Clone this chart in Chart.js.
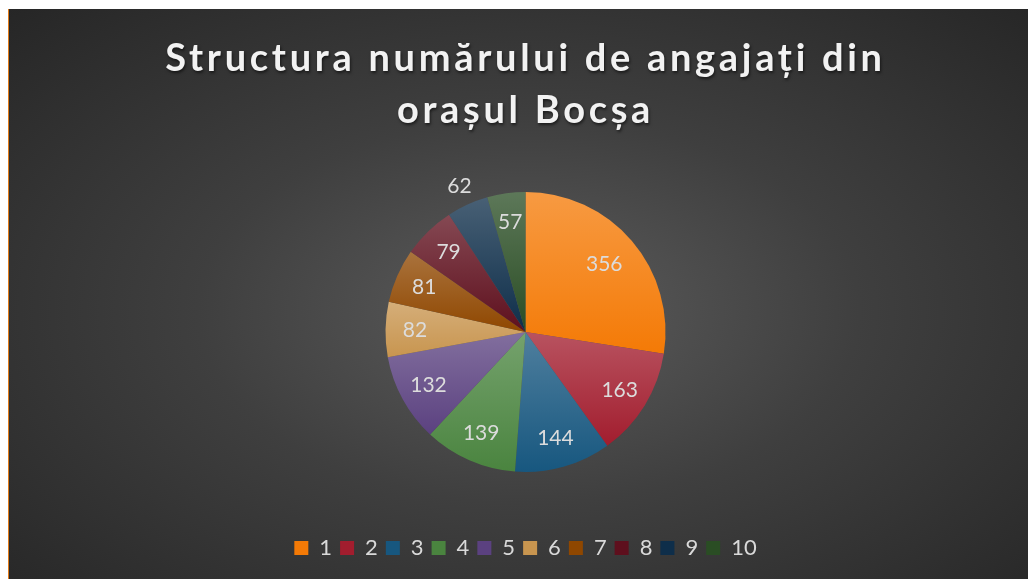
<!DOCTYPE html>
<html lang="ro">
<head>
<meta charset="utf-8">
<title>Structura numărului de angajați din orașul Bocșa</title>
<script src="https://cdn.jsdelivr.net/npm/chart.js@4.4.1/dist/chart.umd.min.js"></script>
<style>
  html, body { margin: 0; padding: 0; background: #ffffff; }
  #frame {
    position: absolute;
    left: 8px; top: 9px;
    width: 1020px; height: 570px;
    border-left: 1px solid #e07a18;
    box-sizing: border-box;
    background: radial-gradient(ellipse farthest-corner at 51% 53%, #5c5c5c 0%, #3f3f3f 45%, #262626 100%);
    overflow: hidden;
  }
  #title {
    position: absolute;
    left: 14px; right: 0; top: 21px;
    margin: 0;
    text-align: center;
    font-family: Lato, "Open Sans", sans-serif;
    font-weight: 700;
    font-size: 38px;
    line-height: 52px;
    letter-spacing: 3.7px;
    color: #f2f2f2;
    text-shadow: 1px 2px 3px rgba(0, 0, 0, 0.55);
  }
  #chart { position: absolute; left: 0; top: 0; }
</style>
</head>
<body>
<div id="frame">
  <canvas id="chart" width="1019" height="570"></canvas>
  <h1 id="title">Structura numărului de angajați din<br>orașul Bocșa</h1>
</div>
<script>
const categories = ['1', '2', '3', '4', '5', '6', '7', '8', '9', '10'];
const employees = [356, 163, 144, 139, 132, 82, 81, 79, 62, 57];
const sliceColors = ['#F47A06', '#A21D2E', '#17577F', '#4A843F', '#5B4180',
                     '#C8954F', '#8F4700', '#5E0F1D', '#0E2E4A', '#2A4D24'];

// lighten a hex colour towards white
const tint = (hex, amt) => {
    const n = parseInt(hex.slice(1), 16);
    const r = (n >> 16) & 255, g = (n >> 8) & 255, b = n & 255;
    const mix = c => Math.round(c + (255 - c) * amt);
    return `rgb(${mix(r)}, ${mix(g)}, ${mix(b)})`;
};

const PIE_RADIUS = 140;

// each slice gets its own top-to-bottom gradient over its bounding box
const sliceFill = (ctx) => {
    const base = sliceColors[ctx.dataIndex];
    const chart = ctx.chart;
    const area = chart.chartArea;
    if (!area) return base;
    const cx = (area.left + area.right) / 2;
    const cy = (area.top + area.bottom) / 2;
    const total = employees.reduce((a, b) => a + b, 0);
    let before = 0;
    for (let i = 0; i < ctx.dataIndex; i++) before += employees[i];
    const a0 = -Math.PI / 2 + before / total * Math.PI * 2;
    const a1 = a0 + employees[ctx.dataIndex] / total * Math.PI * 2;
    const ys = [cy, cy + Math.sin(a0) * PIE_RADIUS, cy + Math.sin(a1) * PIE_RADIUS];
    [-Math.PI / 2, Math.PI / 2, Math.PI * 1.5].forEach(a => {
        if (a > a0 && a < a1) ys.push(cy + Math.sin(a) * PIE_RADIUS);
    });
    const top = Math.min(...ys), bottom = Math.max(...ys);
    const grad = chart.ctx.createLinearGradient(0, top, 0, bottom);
    grad.addColorStop(0, tint(base, 0.24));
    grad.addColorStop(1, base);
    return grad;
};

// value labels inside the slices (the small 62 slice gets its label outside)
const sliceLabels = {
    id: 'sliceLabels',
    afterDatasetsDraw(chart) {
        const meta = chart.getDatasetMeta(0);
        const c = chart.ctx;
        c.save();
        c.font = '21px Lato, "Open Sans", sans-serif';
        c.fillStyle = '#dcdcdc';
        c.textAlign = 'center';
        c.textBaseline = 'middle';
        meta.data.forEach((arc, i) => {
            const p = arc.getProps(['x', 'y', 'startAngle', 'endAngle', 'outerRadius'], true);
            const mid = (p.startAngle + p.endAngle) / 2;
            const k = i === 0 ? 0.74 : (i === 8 ? 1.14 : 0.79);
            const r = p.outerRadius * k;
            c.fillText(String(employees[i]), p.x + Math.cos(mid) * r, p.y + Math.sin(mid) * r);
        });
        c.restore();
    }
};

new Chart(document.getElementById('chart'), {
    type: 'pie',
    data: {
        labels: categories,
        datasets: [{
            data: employees,
            backgroundColor: sliceFill,
            borderWidth: 0
        }]
    },
    options: {
        responsive: false,
        animation: false,
        radius: PIE_RADIUS,
        layout: { padding: { left: 14, right: 0, top: 126, bottom: 10 } },
        plugins: {
            tooltip: { enabled: false },
            title: { display: false },
            legend: {
                position: 'bottom',
                labels: {
                    boxWidth: 14,
                    boxHeight: 14,
                    padding: 8,
                    color: '#d9d9d9',
                    font: { family: 'Lato, "Open Sans", sans-serif', size: 22 },
                    generateLabels: (chart) => categories.map((label, i) => ({
                        text: label,
                        fillStyle: sliceColors[i],
                        strokeStyle: sliceColors[i],
                        lineWidth: 0,
                        fontColor: '#d9d9d9',
                        index: i,
                        hidden: false
                    }))
                }
            }
        }
    },
    plugins: [sliceLabels]
});
</script>
</body>
</html>
